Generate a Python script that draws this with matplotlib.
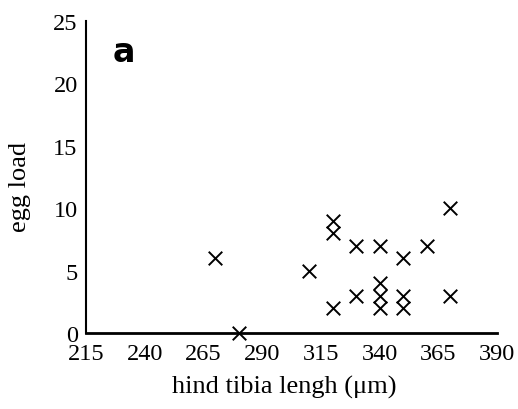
import matplotlib
matplotlib.use('Agg')
import matplotlib.pyplot as plt

# hind tibia length (um) and egg load
tibia = [270, 280, 310, 320, 320, 320, 330, 330, 340, 340, 340, 340, 350, 350, 350, 360, 370, 370]
eggs = [6, 0, 5, 9, 8, 2, 7, 3, 7, 4, 3, 2, 6, 3, 2, 7, 10, 3]
xticks = [215, 240, 265, 290, 315, 340, 365, 390]
yticks = [0, 5, 10, 15, 20, 25]

plt.rcParams['font.family'] = 'Liberation Serif'

fig = plt.figure(figsize=(5.18, 4.10), dpi=100)
ax = fig.add_axes([86/518, 1 - 334/410, (497-86)/518, (334-22)/410])

ax.scatter(tibia, eggs, marker='x', s=95, color='black', linewidths=1.4, clip_on=False, zorder=3)

ax.set_xlim(215, 390)
ax.set_ylim(0, 25)
ax.set_xticks(xticks)
ax.set_yticks(yticks)
ax.tick_params(length=0, labelsize=17.5)
ax.tick_params(axis='x', pad=7)
ax.tick_params(axis='y', pad=6)

for s in ['top', 'right']:
    ax.spines[s].set_visible(False)
ax.spines['left'].set_linewidth(1.5)
ax.spines['bottom'].set_linewidth(2)

ax.set_xlabel('hind tibia lengh (μm)', fontsize=19)
ax.set_ylabel('egg load', fontsize=19)
ax.xaxis.set_label_coords(0.483, -0.135)
ax.yaxis.set_label_coords(-0.135, 0.47)

fig.text(124/518, 1 - 52/410, 'a', family='DejaVu Sans', fontweight='bold', fontsize=24,
         ha='center', va='center')

fig.savefig('out.png', dpi=100)
